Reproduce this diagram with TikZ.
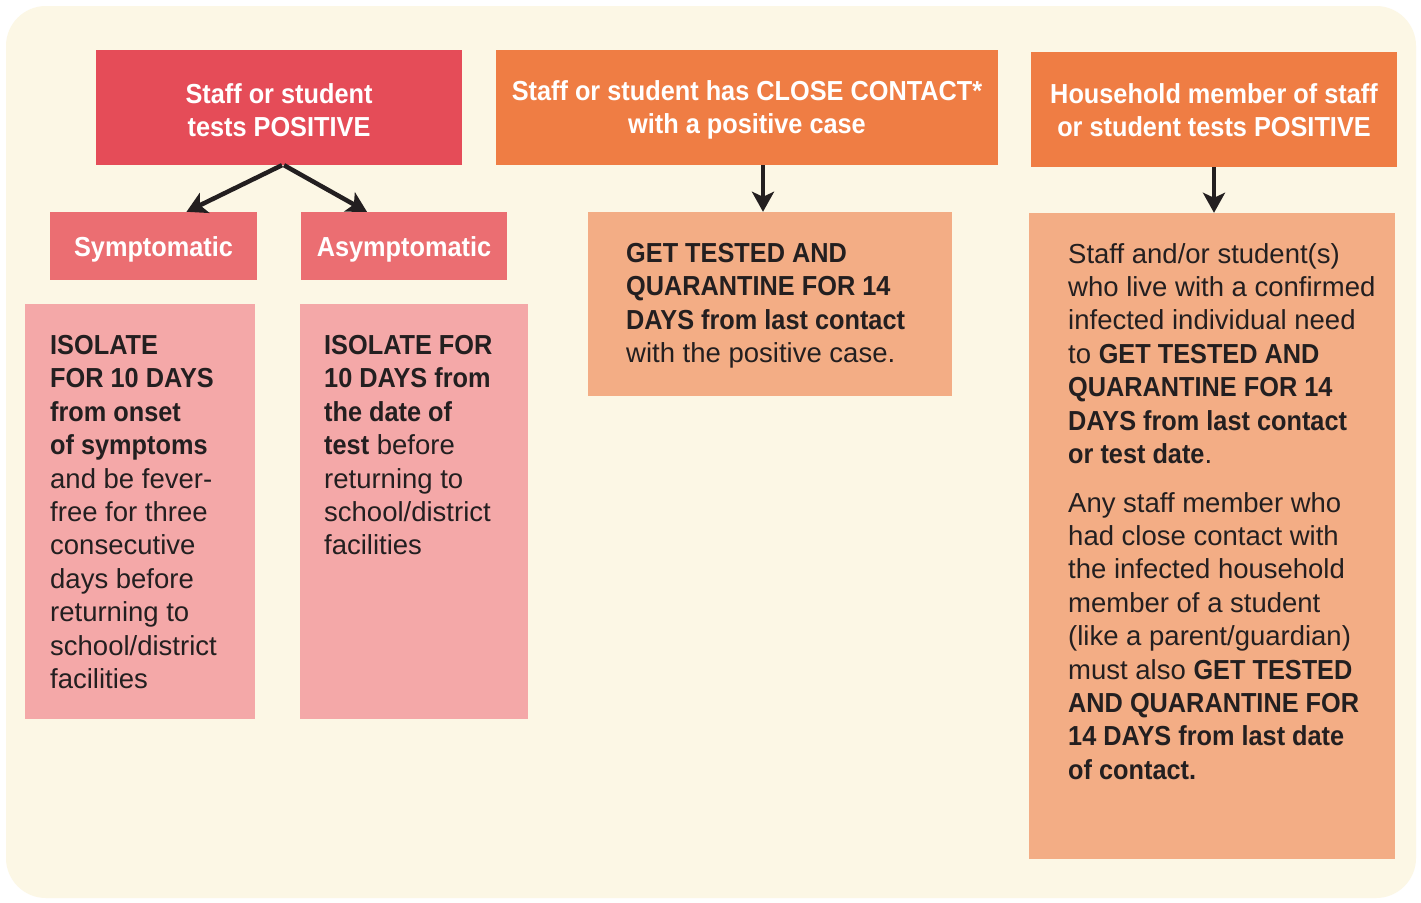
\documentclass[tikz,border=0pt]{standalone}
\usepackage{fontspec}
\setmainfont{Liberation Sans}[BoldFeatures={FakeStretch=0.92}]
\usetikzlibrary{arrows.meta,calc}
\definecolor{bgcream}{RGB}{252,247,229}
\definecolor{hdred}{RGB}{229,76,88}
\definecolor{subred}{RGB}{235,110,114}
\definecolor{pinkbox}{RGB}{244,168,168}
\definecolor{hdorange}{RGB}{239,125,68}
\definecolor{orbox}{RGB}{243,173,133}
\definecolor{ink}{RGB}{35,31,32}
\tikzset{
  header/.style={rectangle, inner sep=0pt},
  headtext/.style={inner sep=0pt, text=white, align=center,
    font=\fontsize{27.5}{33}\selectfont\bfseries},
  panel/.style={rectangle, inner sep=0pt},
  bodytext/.style={anchor=north west, inner sep=0pt, align=left, text=ink,
    font=\fontsize{27.5}{33.4}\selectfont},
  flow/.style={draw=ink, line width=4.5pt,
    -{Stealth[length=20pt,width=22pt,inset=5pt]}}
}
\begin{document}
\begin{tikzpicture}[x=1pt,y=-1pt]
\useasboundingbox (0,0) rectangle (1421,902);
\fill[white] (0,0) rectangle (1421,902);
\fill[bgcream, rounded corners=40pt] (6,6) rectangle (1416,898);

% headers
\node[header, fill=hdred, minimum width=366pt, minimum height=115pt] (hA) at (279,107.5) {};
\node[headtext] (hAt) at ([yshift=-2.5pt]hA.center) {Staff or student\\tests POSITIVE};
\node[header, fill=hdorange, minimum width=502pt, minimum height=115pt] (hB) at (747,107.5) {};
\node[headtext] (hBt) at ([yshift=-2.5pt]hB.center) {Staff or student has CLOSE CONTACT*\\with a positive case};
\node[header, fill=hdorange, minimum width=366pt, minimum height=115pt] (hC) at (1214,109.5) {};
\node[headtext] (hCt) at ([yshift=-0.5pt]hC.center) {Household member of staff\\or student tests POSITIVE};

% sub headers
\node[header, fill=subred, minimum width=207pt, minimum height=68pt] (symp) at (153.5,246) {};
\node[headtext] (sympt) at ([yshift=-3pt]symp.center) {Symptomatic};
\node[header, fill=subred, minimum width=206pt, minimum height=68pt] (asymp) at (404,246) {};
\node[headtext] (asympt) at ([yshift=-3pt]asymp.center) {Asymptomatic};

% panels
\node[panel, fill=pinkbox, minimum width=230pt, minimum height=415pt] (pS) at (140,511.5) {};
\node[panel, fill=pinkbox, minimum width=228pt, minimum height=415pt] (pA) at (414,511.5) {};
\node[panel, fill=orbox, minimum width=364pt, minimum height=184pt] (pB) at (770,304) {};
\node[panel, fill=orbox, minimum width=366pt, minimum height=646pt] (pC) at (1212,536) {};

% panel texts
\node[bodytext] (tS) at (50,335) {\textbf{ISOLATE}\\\textbf{FOR 10 DAYS}\\\textbf{from onset}\\\textbf{of symptoms}\\and be fever-\\free for three\\consecutive\\days before\\returning to\\school/district\\facilities};
\node[bodytext] (tA) at (324,335) {\textbf{ISOLATE FOR}\\\textbf{10 DAYS from}\\\textbf{the date of}\\\textbf{test} before\\returning to\\school/district\\facilities};
\node[bodytext] (tB) at (626,243) {\textbf{GET TESTED AND}\\\textbf{QUARANTINE FOR 14}\\\textbf{DAYS from last contact}\\with the positive case.};
\node[bodytext] (tC1) at (1068,243) {Staff and/or student(s)\\who live with a confirmed\\infected individual need\\to \textbf{GET TESTED AND}\\\textbf{QUARANTINE FOR 14}\\\textbf{DAYS from last contact}\\\textbf{or test date}.};
\node[bodytext] (tC2) at (1068,492) {Any staff member who\\had close contact with\\the infected household\\member of a student\\(like a parent/guardian)\\must also \textbf{GET TESTED}\\\textbf{AND QUARANTINE FOR}\\\textbf{14 DAYS from last date}\\\textbf{of contact.}};

% connectors
\draw[flow] ([xshift=3pt]hA.south) -- ([xshift=33pt]symp.north);
\draw[flow] ([xshift=5pt]hA.south) -- ([xshift=-37pt]asymp.north);
\draw[flow] ([xshift=16pt]hB.south) -- ([xshift=-7pt]pB.north);
\draw[flow] (hC.south) -- (hC.south |- pC.north);
\end{tikzpicture}
\end{document}
